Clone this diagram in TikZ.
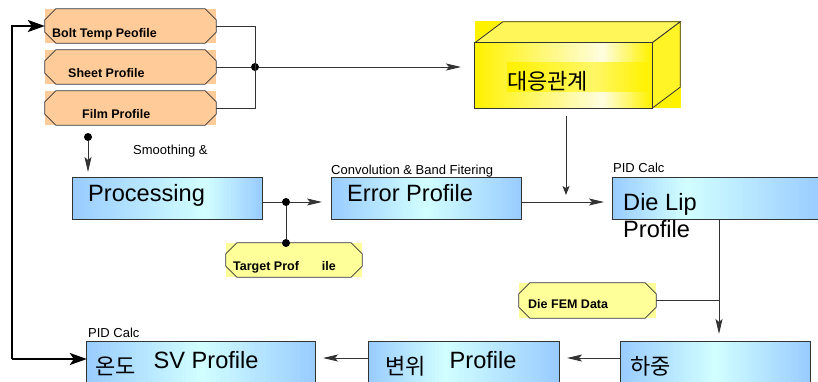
\documentclass[tikz,border=0pt]{standalone}
\usepackage{fontspec}
\setmainfont{Liberation Sans}
\newfontfamily\krfont{Noto Sans CJK KR}
\usetikzlibrary{arrows.meta,calc}

\definecolor{boxblue}{RGB}{153,204,255}
\definecolor{boxcyan}{RGB}{210,255,255}
\definecolor{boxorange}{RGB}{255,204,153}
\definecolor{tagyellow}{RGB}{255,255,153}
\definecolor{linegray}{RGB}{51,51,51}

% korean words sit a little lower than the latin text
\newcommand\kor[1]{\raisebox{-6pt}{\krfont\fontsize{22}{26}\selectfont #1}}
% octagon outline over a filled tag
\newcommand\octoframe[1]{%
  \draw[octline] ([xshift=11pt]#1.north west) -- ([xshift=-11pt]#1.north east)
    -- ([yshift=-11pt]#1.north east) -- ([yshift=11pt]#1.south east)
    -- ([xshift=-11pt]#1.south east) -- ([xshift=11pt]#1.south west)
    -- ([yshift=11pt]#1.south west) -- ([yshift=-11pt]#1.north west) -- cycle;}
% strips from edge colour to light colour and back: node, edge, light, peak
\newcommand\glowbox[4]{%
  \foreach \i in {0,...,59}{%
    \pgfmathtruncatemacro\m{(\i+0.5)/60<#4 ? 100*(\i+0.5)/60/#4 : 100*(1-(\i+0.5)/60)/(1-#4)}%
    \fill[#3!\m!#2] ($(#1.south west)!\i/60!(#1.south east)$)
      rectangle ($(#1.north west)!{min(\i+1.4,60)/60}!(#1.north east)$);
  }%
  \draw[line width=0.8pt, linegray] (#1.south west) rectangle (#1.north east);}

\begin{document}
\begin{tikzpicture}[x=1pt,y=1pt,
  bluebox/.style={inner sep=0pt, minimum height=41pt},
  chipbox/.style={fill=boxorange, inner sep=0pt, minimum width=171pt, minimum height=34pt},
  tagbox/.style={fill=tagyellow, inner sep=0pt, minimum height=34pt},
  octline/.style={draw=linegray, line width=0.8pt},
  cubeline/.style={draw=linegray, line width=0.8pt},
  bigtext/.style={anchor=base west, inner sep=0pt, font=\fontsize{23.6}{27}\selectfont},
  chiptext/.style={anchor=base west, inner sep=0pt, font=\fontsize{12.5}{15}\selectfont\bfseries},
  notetext/.style={anchor=base west, inner sep=0pt, font=\fontsize{13}{15}\selectfont},
  flow/.style={draw=linegray, line width=0.9pt},
  flowarrow/.style={flow, -{Stealth[length=15pt, width=7pt, inset=3pt]}},
  shortarrow/.style={flow, -{Stealth[length=9pt, width=7pt, inset=2pt]}},
  back/.style={line width=2.4pt, -{Stealth[length=17pt, width=12pt, inset=4pt]}},
  dot/.style={circle, fill=black, inner sep=0pt, minimum size=8pt}]
\clip (0,0) rectangle (818,-381);

% profile sources
\node[chipbox] (bolt) at (130.5,-26) {};
\node[chipbox] (sheet) at (130.5,-67) {};
\node[chipbox] (film) at (130.5,-108) {};
\octoframe{bolt}
\octoframe{sheet}
\octoframe{film}
\node[chiptext] (bolt-t) at (52,-37) {Bolt Temp Peofile};
\node[chiptext] (sheet-t) at (68,-77) {Sheet Profile};
\node[chiptext] (film-t) at (82,-118) {Film Profile};

% correspondence cube
\node[minimum width=177pt, minimum height=65pt, inner sep=0pt] (corr) at (563.5,-75.5) {};
\node[minimum width=140pt, minimum height=30pt, inner sep=0pt] (corr-bg) at (577.5,-77) {};
\fill[yellow] (corr.south west) rectangle ([shift={(29pt,22pt)}]corr.north east);
\draw[cubeline, fill=yellow!65!white]
  (corr.north west) -- ([shift={(28pt,21pt)}]corr.north west)
  -- ([shift={(28pt,21pt)}]corr.north east) -- (corr.north east) -- cycle;
\draw[cubeline, fill=yellow!85!white]
  (corr.north east) -- ([shift={(28pt,21pt)}]corr.north east)
  -- ([shift={(28pt,21pt)}]corr.south east) -- (corr.south east) -- cycle;
\glowbox{corr}{yellow}{yellow!12!white}{0.72}
\foreach \i in {0,...,59}{%
  \pgfmathtruncatemacro\m{(\i+0.5)/60<0.62 ? 100*(\i+0.5)/60/0.62 : 100*(1-(\i+0.5)/60)/0.38}%
  \fill[yellow!60!white!\m!yellow] ($(corr-bg.south west)!\i/60!(corr-bg.south east)$)
    rectangle ($(corr-bg.north west)!{min(\i+1.4,60)/60}!(corr-bg.north east)$);
}
\node[bigtext] (corr-t) at (507,-83) {\kor{대응관계}};

% middle row
\node[bluebox, minimum width=189pt] (proc) at (167.5,-198.5) {};
\node[bluebox, minimum width=189pt] (err) at (426.5,-198.5) {};
\node[bluebox, minimum width=209pt] (dielip) at (717.5,-198.5) {};
\glowbox{proc}{boxblue}{boxcyan}{0.7}
\glowbox{err}{boxblue}{boxcyan}{0.5}
\glowbox{dielip}{boxblue}{boxcyan}{0.35}
\node[bigtext] (proc-t) at (88,-201) {Processing};
\node[bigtext] (err-t) at (347,-201) {Error Profile};
\node[bigtext] (dielip-t) at (623,-210) {Die Lip};
\node[bigtext] (dielip-t2) at (623,-237) {Profile};
\node[notetext] (smooth-t) at (133,-154) {Smoothing \&};
\node[notetext] (conv-t) at (331,-174) {Convolution \& Band Fitering};
\node[notetext] (pid-t) at (613,-172) {PID Calc};

% reference tags
\node[tagbox, minimum width=136pt] (target) at (294,-260) {};
\node[tagbox, minimum width=137pt, minimum height=35pt] (fem) at (587.5,-300.5) {};
\octoframe{target}
\octoframe{fem}
\node[chiptext] (target-t) at (233,-270) {Target Prof\hspace{23pt}ile};
\node[chiptext] (fem-t) at (528,-308) {Die FEM Data};

% bottom row
\node[bluebox, minimum width=228pt] (ondo) at (201,-362.5) {};
\node[bluebox, minimum width=190pt] (byeonwi) at (464,-362.5) {};
\node[bluebox, minimum width=189pt] (hajung) at (715.5,-362.5) {};
\glowbox{ondo}{boxblue}{boxcyan}{0.5}
\glowbox{byeonwi}{boxblue}{boxcyan}{0.4}
\glowbox{hajung}{boxblue}{boxcyan}{0.5}
\node[bigtext] (ondo-t) at (95,-368) {\kor{온도}\hspace{18pt}SV Profile};
\node[bigtext] (byeonwi-t) at (385,-368) {\kor{변위}\hspace{24pt}Profile};
\node[bigtext] (hajung-t) at (630,-368) {\kor{하중}};
\node[notetext] (pid-t2) at (88,-337) {PID Calc};

% connectors
\node[dot] (jdot) at (255,-67) {};
\coordinate (corr-in) at (461,-67);
\draw[flow] (bolt.east) -| (jdot.center);
\draw[flow] (film.east) -| (jdot.center);
\draw[flow] (sheet.east) -- (jdot);
\draw[flowarrow] (jdot) -- (corr-in);

\coordinate (corr-out) at (566,-116);
\coordinate (err-mix) at (566,-195);
\draw[shortarrow] (corr-out) -- (err-mix);

\node[dot] (sdot) at (88,-137) {};
\coordinate (proc-in) at (88,-172);
\draw[flowarrow] (sdot) -- (proc-in);

\coordinate (row2) at (0,-202);
\node[dot] (tdot) at (286,-202) {};
\node[dot] (tdot2) at (286,-243) {};
\coordinate (err-in) at (322,-202);
\coordinate (dl-in) at (604,-202);
\draw[flow] (proc.east |- row2) -- (tdot);
\draw[flowarrow] (tdot) -- (err-in);
\draw[flow] (tdot) -- (tdot2);
\draw[flowarrow] (err.east |- row2) -- (dl-in);

\coordinate (dl-out) at (719,-219);
\coordinate (fem-join) at (719,-300.5);
\coordinate (hj-in) at (719,-334);
\draw[flowarrow] (dl-out) -- (hj-in);
\draw[flow] (fem.east) -- (fem-join);

\coordinate (row3) at (0,-358);
\coordinate (bw-in) at (567,-358);
\coordinate (od-in) at (323,-358);
\draw[flowarrow] (hajung.west |- row3) -- (bw-in);
\draw[flowarrow] (byeonwi.west |- row3) -- (od-in);

% feedback loop
\coordinate (fb) at (12,-359);
\draw[back] (fb) |- (bolt.west);
\draw[back] (fb) -- (ondo.west |- fb);
\end{tikzpicture}
\end{document}
